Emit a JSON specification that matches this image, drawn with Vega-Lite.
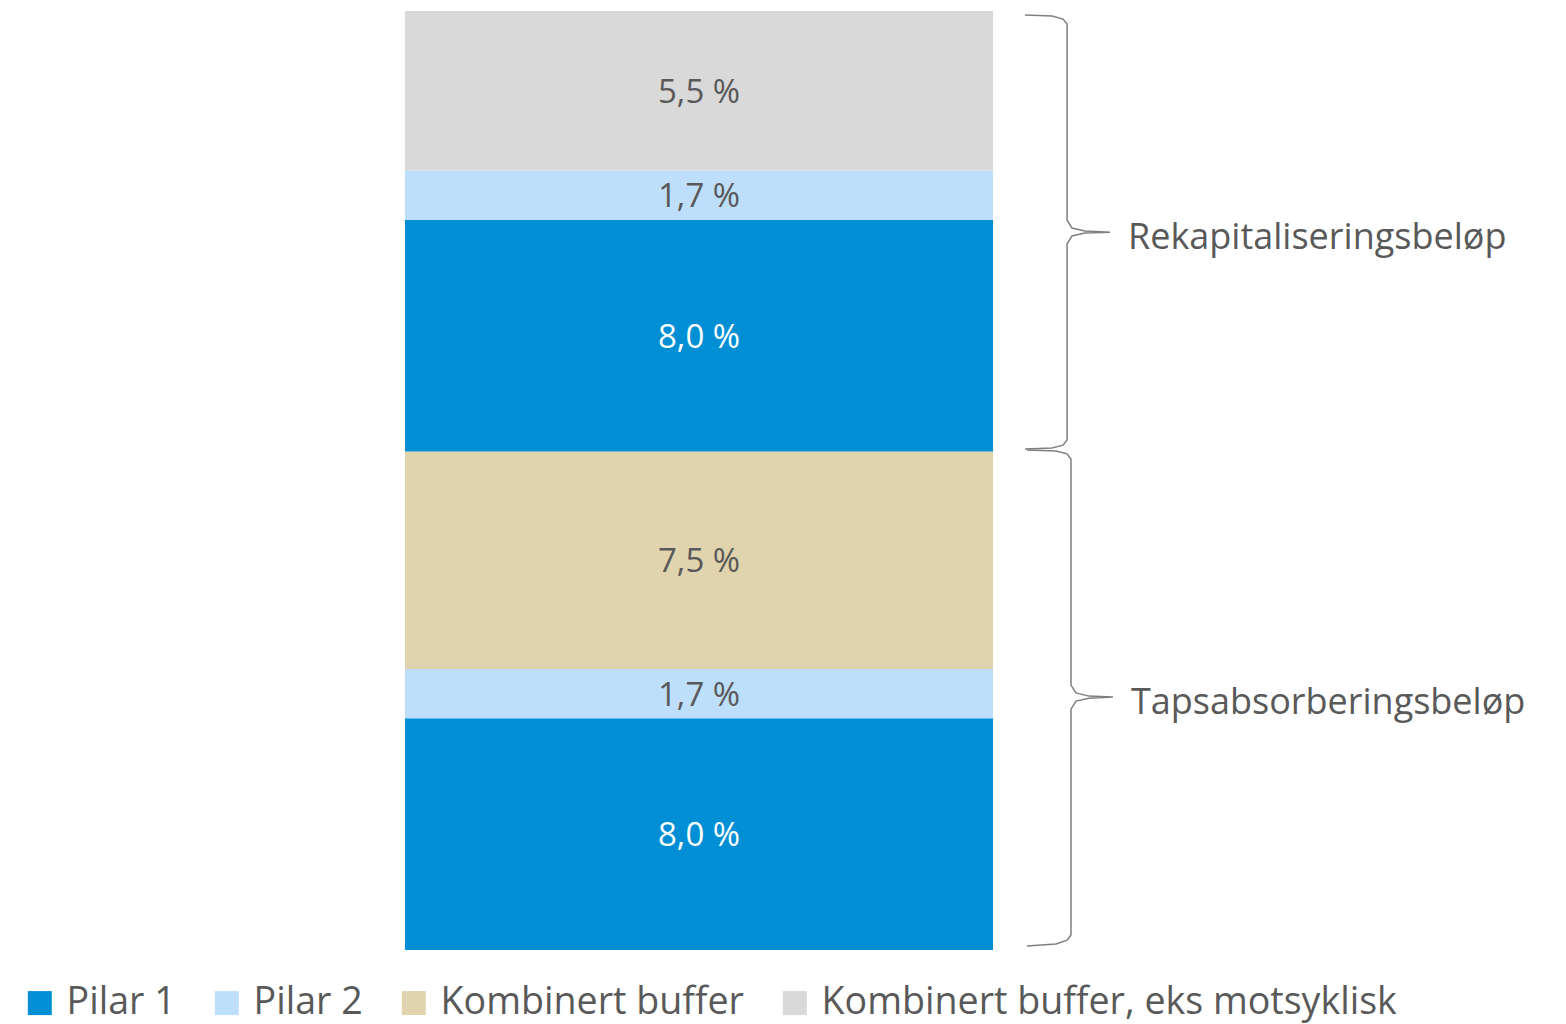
{
  "$schema": "https://vega.github.io/schema/vega-lite/v6.json",
  "width": 1566,
  "height": 939,
  "autosize": {"type": "none"},
  "padding": {"top": 11, "left": 0, "right": 0, "bottom": 74},
  "background": "#ffffff",
  "config": {"view": {"stroke": null}, "font": "Open Sans"},
  "datasets": {
    "segments": [
      {"series": "Pilar 1", "value": 8.0, "label": "8,0 %", "order": 1},
      {"series": "Pilar 2", "value": 1.7, "label": "1,7 %", "order": 2},
      {"series": "Kombinert buffer", "value": 7.5, "label": "7,5 %", "order": 3},
      {"series": "Pilar 1", "value": 8.0, "label": "8,0 %", "order": 4},
      {"series": "Pilar 2", "value": 1.7, "label": "1,7 %", "order": 5},
      {"series": "Kombinert buffer, eks motsyklisk", "value": 5.5, "label": "5,5 %", "order": 6}
    ],
    "braces": [
      {"brace": "Rekapitaliseringsbeløp", "seq": 1, "bx": 65.45, "by": 32.26},
      {"brace": "Rekapitaliseringsbeløp", "seq": 2, "bx": 67.18, "by": 32.23},
      {"brace": "Rekapitaliseringsbeløp", "seq": 3, "bx": 67.88, "by": 32.12},
      {"brace": "Rekapitaliseringsbeløp", "seq": 4, "bx": 68.14, "by": 31.95},
      {"brace": "Rekapitaliseringsbeløp", "seq": 5, "bx": 68.14, "by": 25.19},
      {"brace": "Rekapitaliseringsbeløp", "seq": 6, "bx": 68.45, "by": 24.91},
      {"brace": "Rekapitaliseringsbeløp", "seq": 7, "bx": 69.28, "by": 24.81},
      {"brace": "Rekapitaliseringsbeløp", "seq": 8, "bx": 70.88, "by": 24.77, "tip": 1},
      {"brace": "Rekapitaliseringsbeløp", "seq": 9, "bx": 69.28, "by": 24.74},
      {"brace": "Rekapitaliseringsbeløp", "seq": 10, "bx": 68.45, "by": 24.64},
      {"brace": "Rekapitaliseringsbeløp", "seq": 11, "bx": 68.14, "by": 24.36},
      {"brace": "Rekapitaliseringsbeløp", "seq": 12, "bx": 68.14, "by": 17.60},
      {"brace": "Rekapitaliseringsbeløp", "seq": 13, "bx": 67.88, "by": 17.42},
      {"brace": "Rekapitaliseringsbeløp", "seq": 14, "bx": 67.18, "by": 17.32},
      {"brace": "Rekapitaliseringsbeløp", "seq": 15, "bx": 65.45, "by": 17.29},
      {"brace": "Tapsabsorberingsbeløp", "seq": 1, "bx": 65.58, "by": 17.25},
      {"brace": "Tapsabsorberingsbeløp", "seq": 2, "bx": 67.43, "by": 17.22},
      {"brace": "Tapsabsorberingsbeløp", "seq": 3, "bx": 68.14, "by": 17.12},
      {"brace": "Tapsabsorberingsbeløp", "seq": 4, "bx": 68.39, "by": 16.94},
      {"brace": "Tapsabsorberingsbeløp", "seq": 5, "bx": 68.39, "by": 9.14},
      {"brace": "Tapsabsorberingsbeløp", "seq": 6, "bx": 68.71, "by": 8.87},
      {"brace": "Tapsabsorberingsbeløp", "seq": 7, "bx": 69.54, "by": 8.76},
      {"brace": "Tapsabsorberingsbeløp", "seq": 8, "bx": 71.07, "by": 8.73, "tip": 1},
      {"brace": "Tapsabsorberingsbeløp", "seq": 9, "bx": 69.54, "by": 8.69},
      {"brace": "Tapsabsorberingsbeløp", "seq": 10, "bx": 68.71, "by": 8.59},
      {"brace": "Tapsabsorberingsbeløp", "seq": 11, "bx": 68.39, "by": 8.31},
      {"brace": "Tapsabsorberingsbeløp", "seq": 12, "bx": 68.39, "by": 0.52},
      {"brace": "Tapsabsorberingsbeløp", "seq": 13, "bx": 68.14, "by": 0.34},
      {"brace": "Tapsabsorberingsbeløp", "seq": 14, "bx": 67.43, "by": 0.21},
      {"brace": "Tapsabsorberingsbeløp", "seq": 15, "bx": 65.58, "by": 0.14}
    ]
  },
  "layer": [
    {
      "data": {"name": "segments"},
      "transform": [
        {"stack": "value", "groupby": [], "sort": [{"field": "order", "order": "ascending"}], "as": ["v0", "v1"]}
      ],
      "mark": {"type": "rect"},
      "encoding": {
        "x": {"datum": 25.86, "type": "quantitative", "scale": {"domain": [0, 100], "nice": false, "zero": false}, "axis": null},
        "x2": {"datum": 63.41},
        "y": {"field": "v0", "type": "quantitative", "scale": {"domain": [0, 32.4], "nice": false, "zero": true}, "axis": null},
        "y2": {"field": "v1"},
        "color": {
          "field": "series",
          "type": "nominal",
          "scale": {
            "domain": ["Pilar 1", "Pilar 2", "Kombinert buffer", "Kombinert buffer, eks motsyklisk"],
            "range": ["#008FD5", "#BDDFFB", "#E0D4AE", "#D9D9D9"]
          },
          "legend": {
            "title": null,
            "orient": "none",
            "direction": "horizontal",
            "legendX": 21,
            "legendY": 973,
            "padding": 0,
            "symbolType": "square",
            "symbolSize": 576,
            "symbolStrokeWidth": 0,
            "labelFontSize": 37.6,
            "labelFont": "Open Sans",
            "labelColor": "#595959",
            "labelOffset": 8,
            "columnPadding": 32,
            "labelLimit": 800
          }
        }
      }
    },
    {
      "data": {"name": "segments"},
      "transform": [
        {"stack": "value", "groupby": [], "sort": [{"field": "order", "order": "ascending"}], "as": ["v0", "v1"]},
        {"fold": ["v0", "v1"], "as": ["edge", "pos"]},
        {"aggregate": [{"op": "mean", "field": "pos", "as": "mid"}], "groupby": ["series", "label", "order"]}
      ],
      "mark": {"type": "text", "fontSize": 33, "align": "center", "baseline": "middle", "dy": 2, "font": "Open Sans"},
      "encoding": {
        "x": {"datum": 44.64, "type": "quantitative"},
        "y": {"field": "mid", "type": "quantitative"},
        "text": {"field": "label"},
        "color": {"condition": {"test": "datum.series === 'Pilar 1'", "value": "#FFFFFF"}, "value": "#595959"}
      }
    },
    {
      "data": {"name": "braces"},
      "mark": {"type": "line", "stroke": "#7F7F7F", "strokeWidth": 1.5, "interpolate": "linear"},
      "encoding": {
        "x": {"field": "bx", "type": "quantitative"},
        "y": {"field": "by", "type": "quantitative"},
        "detail": {"field": "brace"},
        "order": {"field": "seq", "type": "quantitative"}
      }
    },
    {
      "data": {"name": "braces"},
      "transform": [{"filter": "datum.tip === 1"}],
      "mark": {"type": "text", "align": "left", "baseline": "middle", "dx": 18, "dy": 6, "fontSize": 36, "font": "Open Sans", "color": "#595959"},
      "encoding": {
        "x": {"field": "bx", "type": "quantitative"},
        "y": {"field": "by", "type": "quantitative"},
        "text": {"field": "brace"}
      }
    }
  ]
}
